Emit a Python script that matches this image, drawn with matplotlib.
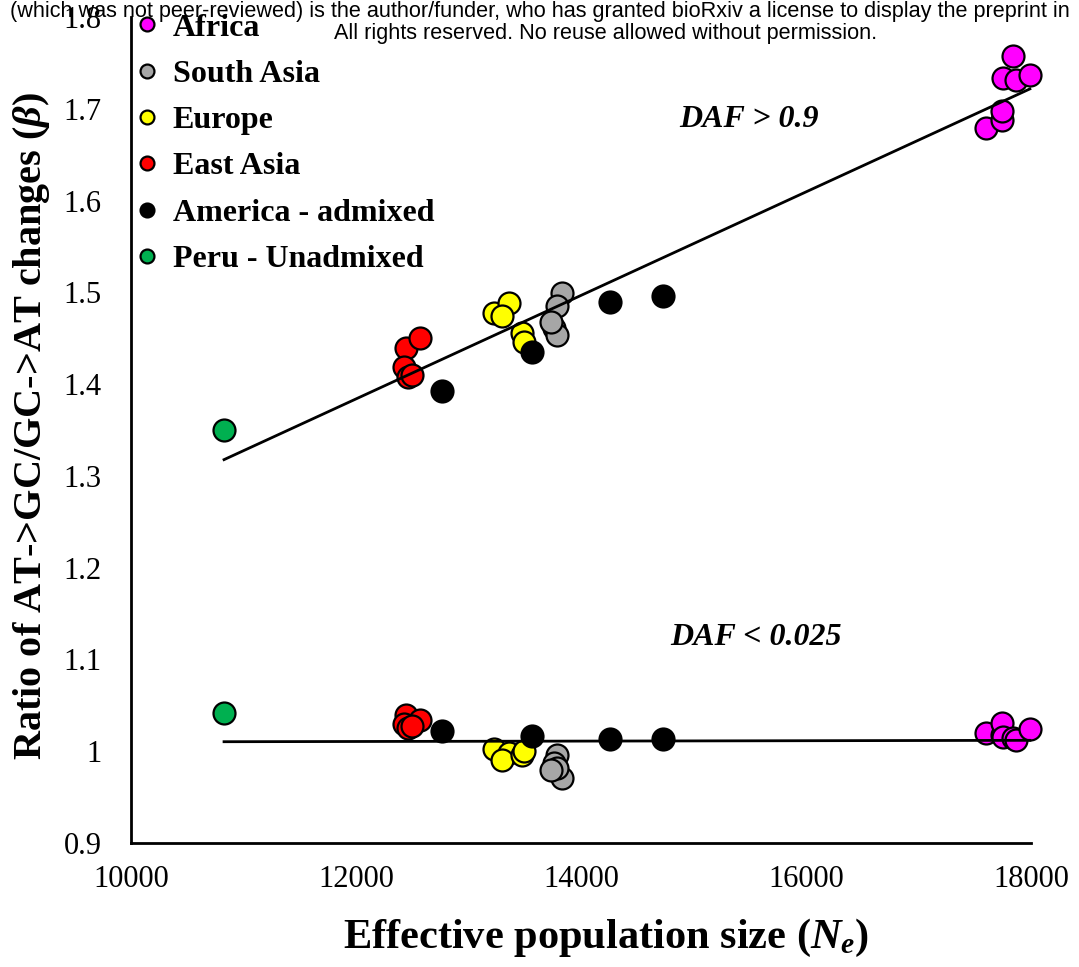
import numpy as np
import matplotlib
matplotlib.use("Agg")
import matplotlib.pyplot as plt
from matplotlib.lines import Line2D

plt.rcParams['font.family'] = ['Liberation Serif', 'DejaVu Serif']
plt.rcParams['mathtext.fontset'] = 'custom'
plt.rcParams['mathtext.rm'] = 'Liberation Serif:bold'
plt.rcParams['mathtext.it'] = 'Liberation Serif:bold:italic'
plt.rcParams['mathtext.bf'] = 'Liberation Serif:bold'

# Effective population size (Ne) and AT->GC / GC->AT ratio per population
regions = ["Africa", "South Asia", "Europe", "East Asia", "America - admixed", "Peru - Unadmixed"]
colors = ["#FF00FF", "#A6A6A6", "#FFFF00", "#FF0000", "#000000", "#00B050"]

africa_ne = [17600, 17740, 17745, 17750, 17840, 17870, 17990]
africa_high = [1.679, 1.688, 1.698, 1.734, 1.757, 1.731, 1.737]
africa_low = [1.020, 1.018, 1.031, 1.016, 1.014, 1.012, 1.024]

south_asia_ne = [13831, 13787, 13760, 13787, 13733]
south_asia_high = [1.499, 1.485, 1.461, 1.453, 1.468]
south_asia_low = [0.971, 0.996, 0.987, 0.982, 0.980]

europe_ne = [13227, 13360, 13298, 13476, 13493]
europe_high = [1.478, 1.488, 1.474, 1.456, 1.446]
europe_low = [1.002, 0.998, 0.990, 0.996, 1.000]

east_asia_ne = [12440, 12570, 12430, 12460, 12500]
east_asia_high = [1.439, 1.450, 1.419, 1.408, 1.410]
east_asia_low = [1.039, 1.034, 1.030, 1.025, 1.028]

america_ne = [12764, 13564, 14258, 14729]
america_high = [1.392, 1.435, 1.489, 1.496]
america_low = [1.022, 1.017, 1.013, 1.013]

peru_ne = [10827]
peru_high = [1.350]
peru_low = [1.042]

ne_groups = [africa_ne, south_asia_ne, europe_ne, east_asia_ne, america_ne, peru_ne]
high_groups = [africa_high, south_asia_high, europe_high, east_asia_high, america_high, peru_high]
low_groups = [africa_low, south_asia_low, europe_low, east_asia_low, america_low, peru_low]

fig = plt.figure(figsize=(10.79, 9.67), dpi=100)
ax = fig.add_axes([131 / 1079, 1 - 843 / 967, 900 / 1079, 826 / 967])

for ne, hi, lo, c in zip(ne_groups, high_groups, low_groups, colors):
    for vals in (hi, lo):
        ax.scatter(ne, vals, s=250, facecolor=c, edgecolor="black",
                   linewidth=1.6, zorder=3, clip_on=False)

# Linear trendlines across all populations
all_ne = np.concatenate([np.asarray(g, float) for g in ne_groups])
for grp in (high_groups, low_groups):
    all_y = np.concatenate([np.asarray(g, float) for g in grp])
    k, b = np.polyfit(all_ne, all_y, 1)
    xs = np.array([all_ne.min(), all_ne.max()])
    ax.plot(xs, k * xs + b, color="black", linewidth=2, zorder=4, clip_on=False)

ax.text(15493, 1.688, "DAF > 0.9", fontsize=23, fontweight="bold", style="italic",
        ha="center", va="center")
ax.text(15556, 1.124, "DAF < 0.025", fontsize=23, fontweight="bold", style="italic",
        ha="center", va="center")

ax.set_xlim(10000, 18000)
ax.set_ylim(0.9, 1.8)
ax.set_xticks([10000, 12000, 14000, 16000, 18000])
ax.set_yticks([0.9, 1.0, 1.1, 1.2, 1.3, 1.4, 1.5, 1.6, 1.7, 1.8])
ax.set_yticklabels(["0.9", "1", "1.1", "1.2", "1.3", "1.4", "1.5", "1.6", "1.7", "1.8"])
ax.tick_params(length=0, labelsize=22)
ax.tick_params(axis="x", pad=16)
ax.tick_params(axis="y", pad=21)
for side in ("top", "right"):
    ax.spines[side].set_visible(False)
for side in ("left", "bottom"):
    ax.spines[side].set_linewidth(2)

ax.set_xlabel(r"Effective population size ($N_e$)", fontsize=30.5, fontweight="bold")
ax.set_ylabel(r"Ratio of AT->GC/GC->AT changes ($\beta$)", fontsize=29, fontweight="bold")
ax.xaxis.set_label_coords(0.528, -0.09)
ax.yaxis.set_label_coords(-0.088, 0.505)

handles = [Line2D([], [], linestyle="none", marker="o", markersize=10,
                  markerfacecolor=c, markeredgecolor="black", markeredgewidth=1.6)
           for c in colors]
leg = ax.legend(handles, regions, loc="upper left", bbox_to_anchor=(-0.007, 1.02),
                frameon=False, handlelength=0.6, handletextpad=0.5,
                labelspacing=0.53, borderaxespad=0.0,
                prop={"family": "Liberation Serif", "weight": "bold", "size": 23})

fig.text(0.5, 1 - 11 / 967,
         "(which was not peer-reviewed) is the author/funder, who has granted bioRxiv a license to display the preprint in",
         family="Liberation Sans", fontsize=15.6, ha="center", va="center")
fig.text(606 / 1079, 1 - 33 / 967,
         "All rights reserved. No reuse allowed without permission.",
         family="Liberation Sans", fontsize=15.6, ha="center", va="center")

fig.savefig("out.png", dpi=100)
